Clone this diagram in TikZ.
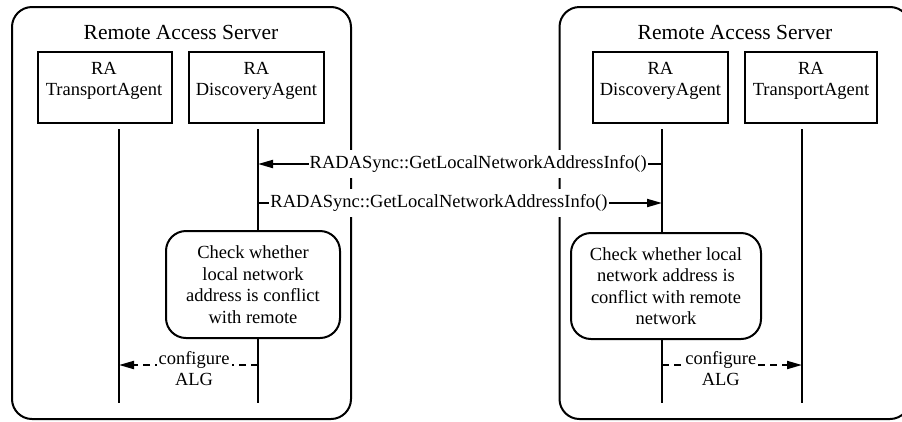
\documentclass[tikz,border=0pt]{standalone}
\usepackage{fontspec}
\setmainfont{Liberation Serif}
\usetikzlibrary{arrows.meta}

\begin{document}
\begin{tikzpicture}[x=1pt, y=-1pt, line width=2pt,
  txt/.style={font=\fontsize{18.5}{21.5}\selectfont, align=center},
  server/.style={draw, rounded corners=20pt},
  servertitle/.style={font=\fontsize{21.5}{24}\selectfont, anchor=base},
  agent/.style={draw, minimum height=71pt, inner sep=0pt},
  agenttext/.style={txt, inner sep=0pt},
  lifeline/.style={draw},
  check/.style={txt, draw, fill=white, rounded corners=20pt, inner sep=0pt},
  msg/.style={-{Triangle[length=15pt, width=8pt]}},
  msglabel/.style={txt, fill=white, inner xsep=1pt, inner ysep=5pt,
    text height=13pt, text depth=4.5pt},
  cfg/.style={msg, dash pattern=on 7pt off 5pt},
  cfglabel/.style={txt, fill=white, inner xsep=2pt, inner ysep=1pt, yshift=-3.5pt},
]
\useasboundingbox (0,0) rectangle (902,421);
\clip (0,0) rectangle (902,421);

% the two servers
\draw[server] (12,7) rectangle (351,419);
\draw[server] (559.5,7) rectangle (910,419);
\node[servertitle] (titleL) at (181,39) {Remote Access Server};
\node[servertitle] (titleR) at (735,39) {Remote Access Server};

% agent boxes
\node[agent, minimum width=134pt] (taL) at (104.5,87) {};
\node[agenttext] (taLt) at (104,81) {RA\\TransportAgent};
\node[agent, minimum width=135pt] (daL) at (256.5,87) {};
\node[agenttext] (daLt) at (256.5,81) {RA\\DiscoveryAgent};
\node[agent, minimum width=135pt] (daR) at (660.5,87) {};
\node[agenttext] (daRt) at (660.5,81) {RA\\DiscoveryAgent};
\node[agent, minimum width=132pt] (taR) at (811,87) {};
\node[agenttext] (taRt) at (811,81) {RA\\TransportAgent};

% lifelines
\coordinate (taLtop) at (119,129);  \coordinate (taLbot) at (119,403);
\coordinate (daLtop) at (258,129);  \coordinate (daLbot) at (258,403);
\coordinate (daRtop) at (662,129);  \coordinate (daRbot) at (662,403);
\coordinate (taRtop) at (802,129);  \coordinate (taRbot) at (802,403);
\draw[lifeline] (taLtop) -- (taLbot);
\draw[lifeline] (daLtop) -- (daLbot);
\draw[lifeline] (daRtop) -- (daRbot);
\draw[lifeline] (taRtop) -- (taRbot);

% local checks
\node[check, minimum width=174pt, minimum height=107pt] (chkL) at (253,284.5)
  {Check whether\\local network\\address is conflict\\with remote};
\node[check, minimum width=190pt, minimum height=106pt] (chkR) at (666,286)
  {Check whether local\\network address is\\conflict with remote\\network};

% synchronisation messages
\coordinate (m1R) at (662,164);  \coordinate (m1L) at (258,164);
\coordinate (m2L) at (258,203);  \coordinate (m2R) at (662,203);
\draw[msg] (m1R) -- (m1L)
  node[msglabel, pos=0.455] (m1t) {RADASync::GetLocalNetworkAddressInfo()};
\draw[msg] (m2L) -- (m2R)
  node[msglabel, pos=0.448] (m2t) {RADASync::GetLocalNetworkAddressInfo()};

% ALG configuration
\coordinate (cLs) at (258,365);  \coordinate (cLe) at (119,365);
\coordinate (cRs) at (662,365);  \coordinate (cRe) at (802,365);
\draw[cfg] (cLs) -- (cLe) node[cfglabel, pos=0.46] (cLt) {configure\\ALG};
\draw[cfg] (cRs) -- (cRe) node[cfglabel, pos=0.42] (cRt) {configure\\ALG};
\end{tikzpicture}
\end{document}
